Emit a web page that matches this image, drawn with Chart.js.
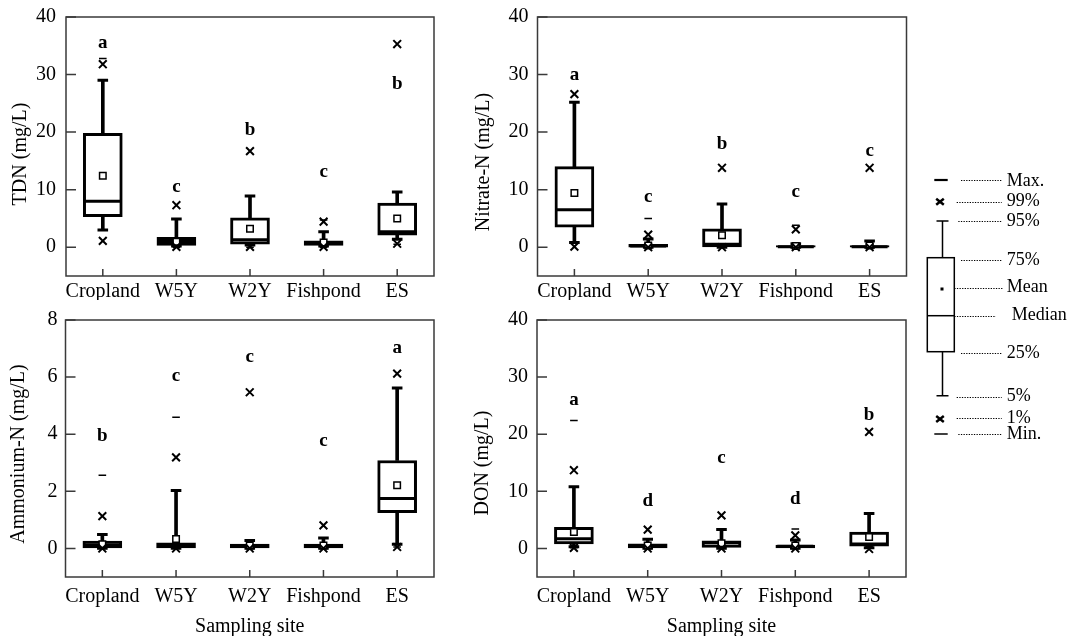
<!DOCTYPE html>
<html><head><meta charset="utf-8">
<script src="https://cdn.jsdelivr.net/npm/chart.js@4.4.0/dist/chart.umd.min.js"></script>
<style>
html,body{margin:0;padding:0;background:#fff;}
body{width:1069px;height:636px;position:relative;overflow:hidden;}
canvas{position:absolute;display:block;}
</style></head><body>
<canvas id="c1" width="460" height="300" style="left:0;top:0"></canvas>
<canvas id="c2" width="460" height="300" style="left:460px;top:0"></canvas>
<canvas id="c3" width="460" height="336" style="left:0;top:300px"></canvas>
<canvas id="c4" width="460" height="336" style="left:460px;top:300px"></canvas>
<canvas id="lg" width="169" height="300" style="left:900px;top:160px"></canvas>
<script>
const categories = ['Cropland','W5Y','W2Y','Fishpond','ES'];

// TDN (mg/L)
const tdnMax    = [32.8, null, null, 4.75, null];
const tdnP99    = [31.8, 7.3, 16.7, 4.45, 35.3];
const tdnP95    = [29.0, 4.9, 8.9, 2.7, 9.6];
const tdnQ3     = [19.8, 1.7, 5.1, 1.1, 7.65];
const tdnMean   = [12.4, 0.95, 3.2, 0.8, 5.0];
const tdnMedian = [8.0, 1.0, 1.3, 0.7, 2.7];
const tdnQ1     = [5.3, 0.3, 0.55, 0.3, 2.1];
const tdnP5     = [3.0, 0.2, 0.4, 0.2, 1.4];
const tdnP1     = [1.1, 0.05, 0.05, 0.05, 0.6];
const tdnMin    = [null, 0.0, 0.0, 0.0, 0.5];
const tdnLetters = ['a','c','b','c','b'];
const tdnLetterY = [35.4, 10.5, 20.4, 13.0, 28.3];
const tdnTicks = [0, 10, 20, 30, 40];

// Nitrate-N (mg/L)
const no3Max    = [null, 5.0, null, 3.8, null];
const no3P99    = [26.6, 2.2, 13.8, 3.1, 13.8];
const no3P95    = [25.2, 1.45, 7.5, 0.6, 1.1];
const no3Q3     = [14.0, 0.5, 3.2, 0.3, 0.3];
const no3Mean   = [9.4, 0.3, 2.1, 0.2, 0.3];
const no3Median = [6.5, 0.2, 0.5, 0.1, 0.1];
const no3Q1     = [3.5, 0.0, 0.05, 0.0, 0.0];
const no3P5     = [0.8, 0.0, 0.0, 0.0, 0.0];
const no3P1     = [0.1, 0.0, 0.0, 0.0, 0.0];
const no3Min    = [null, 0.0, 0.0, 0.0, 0.0];
const no3Letters = ['a','c','b','c','c'];
const no3LetterY = [29.9, 8.7, 18.0, 9.6, 16.7];
const no3Ticks = [0, 10, 20, 30, 40];

// Ammonium-N (mg/L)
const nh4Max    = [2.56, 4.59, null, null, null];
const nh4P99    = [1.13, 3.19, 5.47, 0.81, 6.12];
const nh4P95    = [0.49, 2.03, 0.28, 0.37, 5.62];
const nh4Q3     = [0.26, 0.2, 0.15, 0.15, 3.08];
const nh4Mean   = [0.15, 0.33, 0.1, 0.1, 2.21];
const nh4Median = [0.12, 0.13, 0.08, 0.08, 1.75];
const nh4Q1     = [0.02, 0.02, 0.02, 0.02, 1.25];
const nh4P5     = [0.01, 0.01, 0.01, 0.01, 0.15];
const nh4P1     = [0.0, 0.0, 0.0, 0.0, 0.05];
const nh4Min    = [0.0, 0.0, 0.0, 0.0, 0.05];
const nh4Letters = ['b','c','c','c','a'];
const nh4LetterY = [3.93, 6.05, 6.69, 3.75, 7.02];
const nh4Ticks = [0, 2, 4, 6, 8];

// DON (mg/L)
const donMax    = [22.4, null, null, 3.4, null];
const donP99    = [13.7, 3.3, 5.8, 2.3, 20.4];
const donP95    = [10.8, 1.6, 3.3, 1.5, 6.1];
const donQ3     = [3.7, 0.8, 1.35, 0.6, 2.85];
const donMean   = [2.9, 0.5, 0.9, 0.5, 2.0];
const donMedian = [1.7, 0.4, 1.0, 0.4, 0.8];
const donQ1     = [0.8, 0.1, 0.2, 0.1, 0.4];
const donP5     = [0.3, 0.05, 0.05, 0.05, 0.1];
const donP1     = [0.1, 0.0, 0.0, 0.0, -0.1];
const donMin    = [0.1, 0.0, 0.0, 0.0, null];
const donLetters = ['a','d','c','d','b'];
const donLetterY = [26.0, 8.3, 15.8, 8.7, 23.4];
const donTicks = [0, 10, 20, 30, 40];

const legendLabels = ['Max.','99%','95%','75%','Mean','Median','25%','5%','1%','Min.'];

const FONT = "'Liberation Serif','Times New Roman',serif";
Chart.defaults.font.family = FONT;
Chart.defaults.color = '#000';

function makePanel(id, d, o) {
  const plugin = {
    id: 'frameMarks_' + id,
    afterDraw(chart) {
      const {ctx, chartArea: a, scales: {x, y}} = chart;
      ctx.save();
      ctx.strokeStyle = '#3a3a3a';
      ctx.lineWidth = 1.5;
      ctx.strokeRect(a.left, a.top, a.right - a.left, a.bottom - a.top);
      ctx.beginPath();
      y.ticks.forEach(t => {
        const py = y.getPixelForValue(t.value);
        ctx.moveTo(a.left, py); ctx.lineTo(a.left + 10, py);
      });
      categories.forEach((c, i) => {
        const px = x.getPixelForValue(i);
        ctx.moveTo(px, a.bottom); ctx.lineTo(px, a.bottom - 7);
      });
      ctx.stroke();
      ctx.fillStyle = '#000';
      ctx.font = 'bold 19px ' + FONT;
      ctx.textAlign = 'center';
      ctx.textBaseline = 'middle';
      d.letters.forEach((l, i) => ctx.fillText(l, x.getPixelForValue(i), y.getPixelForValue(d.letterY[i])));
      // y-axis title
      ctx.font = '20px ' + FONT;
      ctx.translate(o.titleX, o.titleY);
      ctx.rotate(-Math.PI / 2);
      ctx.fillText(o.yTitle, 0, 0);
      ctx.restore();
    }
  };
  const pts = (data, style, r, bw, order, bg) => ({
    type: 'line', data, showLine: false, pointStyle: style, pointRadius: r,
    pointHoverRadius: r, pointBorderWidth: bw, pointBorderColor: '#000',
    pointBackgroundColor: bg || '#000', order
  });
  const datasets = [
    { type: 'bar', data: categories.map((c, i) => [d.q1[i], d.q3[i]]), backgroundColor: '#fff',
      borderColor: '#000', borderWidth: 3, borderSkipped: false, barThickness: 39, grouped: false, order: 10 },
    { type: 'bar', data: categories.map((c, i) => [d.q3[i], d.p95[i]]), backgroundColor: '#000',
      borderWidth: 0, barThickness: 3, grouped: false, order: 12 },
    { type: 'bar', data: categories.map((c, i) => [d.p5[i], d.q1[i]]), backgroundColor: '#000',
      borderWidth: 0, barThickness: 3, grouped: false, order: 12 },
    pts(d.median, 'line', 18, 3, 6),
    pts(d.p95, 'line', 5.3, 3, 5),
    pts(d.p5, 'line', 5.3, 3, 5),
    pts(d.mean, 'rect', 4.6, 1.5, 4, '#fff'),
    pts(d.p99, 'crossRot', 5.5, 2, 3),
    pts(d.p1, 'crossRot', 5.5, 2, 3),
    pts(d.max, 'line', 3.8, 1.5, 2),
    pts(d.min, 'line', 3.8, 1.5, 2)
  ];
  new Chart(document.getElementById(id), {
    data: { labels: categories, datasets },
    plugins: [plugin],
    options: {
      responsive: false, animation: false,
      layout: { autoPadding: false, padding: { top: o.top, right: o.right, left: 0, bottom: 0 } },
      plugins: { legend: { display: false }, tooltip: { enabled: false } },
      scales: {
        x: {
          type: 'category', offset: true,
          grid: { display: false, drawTicks: false }, border: { display: false },
          ticks: { font: { size: 20 }, padding: o.xPad, maxRotation: 0, autoSkip: false },
          title: { display: !!o.xTitle, text: o.xTitle || '', font: { size: 20, lineHeight: 0.9 }, padding: { top: 0, bottom: 0 } },
          afterFit: s => { s.height = o.xH; s.paddingLeft = 0; s.paddingRight = 0; s.paddingTop = 0; s.paddingBottom = 0; }
        },
        y: {
          min: o.yMin, max: o.yMax,
          grid: { display: false, drawTicks: true, tickLength: o.yPad }, border: { display: false },
          ticks: { font: { size: 20 }, padding: 0, callback: v => String(v) },
          afterBuildTicks: s => { s.ticks = d.ticks.map(v => ({ value: v })); },
          title: { display: false },
          afterFit: s => { s.width = o.yW; s.paddingTop = 0; s.paddingBottom = 0; s.paddingLeft = 0; s.paddingRight = 0; }
        }
      }
    }
  });
}

makePanel('c1', { max: tdnMax, p99: tdnP99, p95: tdnP95, q3: tdnQ3, mean: tdnMean, median: tdnMedian, q1: tdnQ1, p5: tdnP5, p1: tdnP1, min: tdnMin, letters: tdnLetters, letterY: tdnLetterY, ticks: tdnTicks },
  { top: 17, right: 26, yW: 66, xH: 24, xPad: 4, yPad: 10, titleX: 21, titleY: 154, yMin: -5, yMax: 40, yTitle: 'TDN (mg/L)' });
makePanel('c2', { max: no3Max, p99: no3P99, p95: no3P95, q3: no3Q3, mean: no3Mean, median: no3Median, q1: no3Q1, p5: no3P5, p1: no3P1, min: no3Min, letters: no3Letters, letterY: no3LetterY, ticks: no3Ticks },
  { top: 17, right: 13.5, yW: 77.5, xH: 24, xPad: 4, yPad: 9, titleX: 23.5, titleY: 162, yMin: -5, yMax: 40, yTitle: 'Nitrate-N (mg/L)' });
makePanel('c3', { max: nh4Max, p99: nh4P99, p95: nh4P95, q3: nh4Q3, mean: nh4Mean, median: nh4Median, q1: nh4Q1, p5: nh4P5, p1: nh4P1, min: nh4Min, letters: nh4Letters, letterY: nh4LetterY, ticks: nh4Ticks },
  { top: 20, right: 26, yW: 65.5, xH: 59, xPad: 8, yPad: 8, titleX: 18.5, titleY: 154, yMin: -1, yMax: 8, yTitle: 'Ammonium-N (mg/L)', xTitle: 'Sampling site' });
makePanel('c4', { max: donMax, p99: donP99, p95: donP95, q3: donQ3, mean: donMean, median: donMedian, q1: donQ1, p5: donP5, p1: donP1, min: donMin, letters: donLetters, letterY: donLetterY, ticks: donTicks },
  { top: 20, right: 14, yW: 77, xH: 59, xPad: 8, yPad: 9, titleX: 23, titleY: 163, yMin: -5, yMax: 40, yTitle: 'DON (mg/L)', xTitle: 'Sampling site' });

// Legend key
(function () {
  const ctx = document.getElementById('lg').getContext('2d');
  ctx.strokeStyle = '#000'; ctx.fillStyle = '#000';
  ctx.lineWidth = 1.5;
  ctx.strokeRect(27.3, 97.7, 27, 94);
  ctx.beginPath(); ctx.moveTo(27.3, 155.7); ctx.lineTo(54.3, 155.7); ctx.stroke();
  ctx.fillRect(40.5, 127.5, 3, 3);
  ctx.beginPath();
  ctx.moveTo(42.5, 61); ctx.lineTo(42.5, 97.7);
  ctx.moveTo(42.5, 191.7); ctx.lineTo(42.5, 235.7);
  ctx.moveTo(36.5, 61); ctx.lineTo(48.5, 61);
  ctx.moveTo(36.5, 235.7); ctx.lineTo(48.5, 235.7);
  ctx.stroke();
  ctx.lineWidth = 2.2;
  ctx.beginPath(); ctx.moveTo(34.3, 20); ctx.lineTo(47.7, 20); ctx.stroke();
  ctx.lineWidth = 1.5;
  ctx.beginPath(); ctx.moveTo(34.3, 274); ctx.lineTo(47.7, 274); ctx.stroke();
  ctx.lineWidth = 2.5;
  [[40, 41.7], [40, 259]].forEach(([cx, cy]) => {
    ctx.beginPath();
    ctx.moveTo(cx - 3.8, cy - 3); ctx.lineTo(cx + 3.8, cy + 3);
    ctx.moveTo(cx - 3.8, cy + 3); ctx.lineTo(cx + 3.8, cy - 3);
    ctx.stroke();
  });
  const leaders = [[61, 20], [56.7, 41.7], [58.3, 61], [61, 100], [54.3, 127.7], [54.3, 155.7], [61, 193.3], [56.7, 236.7], [56.7, 258.3], [58.3, 274]];
  const ends = [101.7, 101.7, 101.7, 101.7, 103.3, 96, 101.7, 101.7, 101.7, 101.7];
  ctx.lineWidth = 1; ctx.setLineDash([1.3, 1.3]);
  leaders.forEach(([sx, sy], i) => {
    ctx.beginPath(); ctx.moveTo(sx, Math.round(sy) + 0.5); ctx.lineTo(ends[i], Math.round(sy) + 0.5); ctx.stroke();
  });
  ctx.setLineDash([]);
  ctx.font = '18px ' + FONT;
  ctx.textAlign = 'left'; ctx.textBaseline = 'middle';
  const ly = [21.7, 41.7, 61.7, 100, 127.7, 155.7, 193.3, 236.7, 258.3, 274];
  legendLabels.forEach((t, i) => ctx.fillText(t, i === 5 ? 111.7 : 106.7, ly[i]));
})();
</script>
</body></html>
